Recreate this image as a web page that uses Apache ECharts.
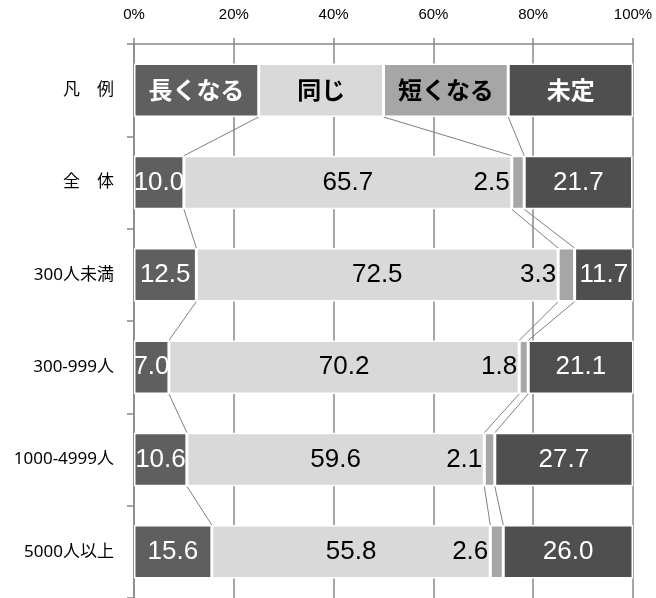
<!DOCTYPE html>
<html>
<head>
<meta charset="utf-8">
<script src="https://cdn.jsdelivr.net/npm/echarts@6/dist/echarts.min.js"></script>
<style>
html,body{margin:0;padding:0;background:#fff;}
#chart{width:656px;height:598px;}
</style>
</head>
<body>
<div id="chart"></div>
<script>
const categories = ['凡　例', '全　体', '300人未満', '300-999人', '1000-4999人', '5000人以上'];
const seriesNames = ['長くなる', '同じ', '短くなる', '未定'];
const legendRow = [25, 25, 25, 25];
const longer = [10.0, 12.5, 7.0, 10.6, 15.6];
const same = [65.7, 72.5, 70.2, 59.6, 55.8];
const shorter = [2.5, 3.3, 1.8, 2.1, 2.6];
const undecided = [21.7, 11.7, 21.1, 27.7, 26.0];
const xTickLabels = ['0%', '20%', '40%', '60%', '80%', '100%'];

const colors = ['#5f5f5f', '#d9d9d9', '#a6a6a6', '#4f4f4f'];
const legendTextColors = ['#ffffff', '#000000', '#000000', '#ffffff'];
const valueTextColors = ['#ffffff', '#000000', '#000000', '#ffffff'];
const seriesValues = [longer, same, shorter, undecided];
const BAR_FRAC = 0.58;

const chart = echarts.init(document.getElementById('chart'));

const barSeries = seriesNames.map(function (name, s) {
  const data = [{
    value: legendRow[s],
    label: {
      position: 'inside',
      formatter: name,
      fontFamily: 'Noto Sans CJK JP',
      fontWeight: 'bold',
      fontSize: 24,
      color: legendTextColors[s]
    }
  }];
  seriesValues[s].forEach(function (v) { data.push(v); });
  return {
    name: name,
    type: 'bar',
    stack: 'total',
    barWidth: (BAR_FRAC * 100) + '%',
    itemStyle: { color: colors[s], borderColor: '#ffffff', borderWidth: 1.5 },
    label: {
      show: true,
      position: s === 2 ? 'left' : 'inside',
      distance: 2,
      formatter: function (p) { return Number(p.value).toFixed(1); },
      fontFamily: 'Liberation Sans',
      fontSize: 26,
      color: valueTextColors[s]
    },
    emphasis: { disabled: true },
    data: data
  };
});

// connector lines between consecutive rows at segment boundaries
const rows = [legendRow];
for (let i = 0; i < longer.length; i++) {
  rows.push([longer[i], same[i], shorter[i], undecided[i]]);
}
const connectorData = [];
for (let i = 0; i < rows.length - 1; i++) {
  let c1 = 0, c2 = 0;
  for (let b = 0; b < 3; b++) {
    c1 += rows[i][b];
    c2 += rows[i + 1][b];
    connectorData.push([c1, i, c2, i + 1]);
  }
}

const connectorSeries = {
  type: 'custom',
  coordinateSystem: 'cartesian2d',
  encode: { x: [0, 2], y: [1, 3] },
  silent: true,
  z: 1,
  renderItem: function (params, api) {
    const p1 = api.coord([api.value(0), api.value(1)]);
    const p2 = api.coord([api.value(2), api.value(3)]);
    const band = api.size([0, 1])[1];
    const half = band * BAR_FRAC / 2;
    return {
      type: 'line',
      shape: { x1: p1[0], y1: p1[1] + half, x2: p2[0], y2: p2[1] - half },
      style: { stroke: '#7f7f7f', lineWidth: 1 }
    };
  },
  data: connectorData
};

chart.setOption({
  animation: false,
  backgroundColor: '#ffffff',
  grid: { left: 134, right: 23, top: 44, bottom: 0, containLabel: false },
  xAxis: {
    type: 'value',
    position: 'top',
    min: 0,
    max: 100,
    interval: 20,
    axisLine: { show: true, lineStyle: { color: '#888888', width: 1.5 } },
    axisTick: { show: true, length: 6, lineStyle: { color: '#888888', width: 1.5 } },
    splitLine: { show: true, lineStyle: { color: '#888888', width: 1.5 } },
    axisLabel: {
      margin: 22,
      fontFamily: 'Liberation Sans',
      fontSize: 15,
      color: '#000000',
      formatter: function (v) { return xTickLabels[Math.round(v / 20)]; }
    }
  },
  yAxis: {
    type: 'category',
    inverse: true,
    data: categories,
    axisLine: { show: true, lineStyle: { color: '#888888', width: 1.5 } },
    axisTick: { show: true, length: 7, lineStyle: { color: '#888888', width: 1.5 } },
    axisLabel: {
      margin: 20,
      fontFamily: "'Noto Sans', 'Noto Sans CJK JP'",
      fontSize: 17,
      color: '#000000'
    }
  },
  series: barSeries.concat([connectorSeries])
});
</script>
</body>
</html>
